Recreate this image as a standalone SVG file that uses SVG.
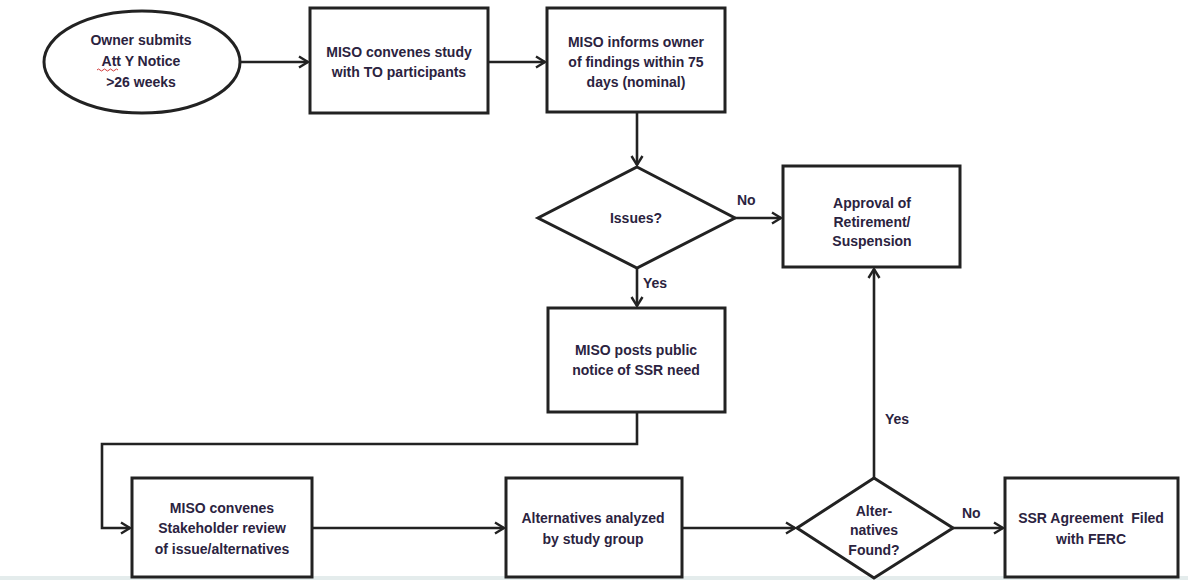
<svg xmlns="http://www.w3.org/2000/svg" width="1188" height="580" viewBox="0 0 1188 580">
<defs>
<marker id="arr" markerUnits="userSpaceOnUse" markerWidth="14" markerHeight="14" refX="11" refY="7" orient="auto">
<path d="M2,1.5 L11,7 L2,12.5" fill="none" stroke="#222" stroke-width="2.4"/>
</marker>
<style>
.shape{fill:#fff;stroke:#222;stroke-width:3}
.conn{fill:none;stroke:#222;stroke-width:2.6}
.t{font-family:"Liberation Sans",Arial,sans-serif;font-size:14px;font-weight:bold;fill:#2b2340;text-anchor:middle}
.lbl{font-family:"Liberation Sans",Arial,sans-serif;font-size:14px;font-weight:bold;fill:#2b2340}
</style>
</defs>
<rect x="0" y="0" width="1188" height="580" fill="#fff"/>
<rect x="0" y="576" width="1188" height="4" fill="#e4ecec"/>
<g id="connectors">
<path class="conn" d="M240,62 L308,62" marker-end="url(#arr)"/>
<path class="conn" d="M488,62 L545,62" marker-end="url(#arr)"/>
<path class="conn" d="M637,112 L637,165" marker-end="url(#arr)"/>
<path class="conn" d="M735,218 L781,218" marker-end="url(#arr)"/>
<path class="conn" d="M637,268 L637,306" marker-end="url(#arr)"/>
<path class="conn" d="M637,412 L637,444 L102,444 L102,528 L130,528" marker-end="url(#arr)"/>
<path class="conn" d="M312,528 L504,528" marker-end="url(#arr)"/>
<path class="conn" d="M682,528 L795,528" marker-end="url(#arr)"/>
<path class="conn" d="M874,478 L874,269" marker-end="url(#arr)"/>
<path class="conn" d="M953,528 L1003,528" marker-end="url(#arr)"/>
<text class="lbl" x="737" y="205">No</text>
<text class="lbl" x="643" y="288">Yes</text>
<text class="lbl" x="885" y="424">Yes</text>
<text class="lbl" x="962" y="518">No</text>
</g>
<g id="start">
<ellipse class="shape" cx="142" cy="62" rx="98" ry="51"/>
<text class="t" x="141" y="45">Owner submits</text>
<text class="t" x="141" y="66">Att Y Notice</text>
<path d="M97,70 q1.5,-2 3,0 t3,0 t3,0 t3,0 t3,0 t3,0 t3,0" fill="none" stroke="#d23a3a" stroke-width="1"/>
<text class="t" x="141" y="87">&gt;26 weeks</text>
</g>
<g id="convene-study">
<rect class="shape" x="310" y="8" width="178" height="105"/>
<text class="t" x="399" y="57">MISO convenes study</text>
<text class="t" x="399" y="77">with TO participants</text>
</g>
<g id="inform-owner">
<rect class="shape" x="547" y="8" width="178" height="104"/>
<text class="t" x="636" y="47">MISO informs owner</text>
<text class="t" x="636" y="67">of findings within 75</text>
<text class="t" x="636" y="87">days (nominal)</text>
</g>
<g id="issues">
<polygon class="shape" points="637,167 735,218 637,268 538,218"/>
<text class="t" x="636" y="223">Issues?</text>
</g>
<g id="approval">
<rect class="shape" x="783" y="166" width="177" height="101"/>
<text class="t" x="872" y="208">Approval of</text>
<text class="t" x="872" y="227">Retirement/</text>
<text class="t" x="872" y="246">Suspension</text>
</g>
<g id="public-notice">
<rect class="shape" x="548" y="308" width="177" height="104"/>
<text class="t" x="636" y="355">MISO posts public</text>
<text class="t" x="636" y="375">notice of SSR need</text>
</g>
<g id="stakeholder-review">
<rect class="shape" x="132" y="478" width="180" height="99"/>
<text class="t" x="222" y="513">MISO convenes</text>
<text class="t" x="222" y="533">Stakeholder review</text>
<text class="t" x="222" y="554">of issue/alternatives</text>
</g>
<g id="alternatives-analyzed">
<rect class="shape" x="506" y="478" width="176" height="99"/>
<text class="t" x="593" y="523">Alternatives analyzed</text>
<text class="t" x="593" y="544">by study group</text>
</g>
<g id="alternatives-found">
<polygon class="shape" points="874,478 953,528 874,578 797,528"/>
<text class="t" x="874" y="516">Alter-</text>
<text class="t" x="874" y="535">natives</text>
<text class="t" x="874" y="555">Found?</text>
</g>
<g id="ssr-agreement">
<rect class="shape" x="1005" y="478" width="173" height="99"/>
<text class="t" x="1091" y="523" style="white-space:pre">SSR Agreement  Filed</text>
<text class="t" x="1091" y="544">with FERC</text>
</g>
</svg>
